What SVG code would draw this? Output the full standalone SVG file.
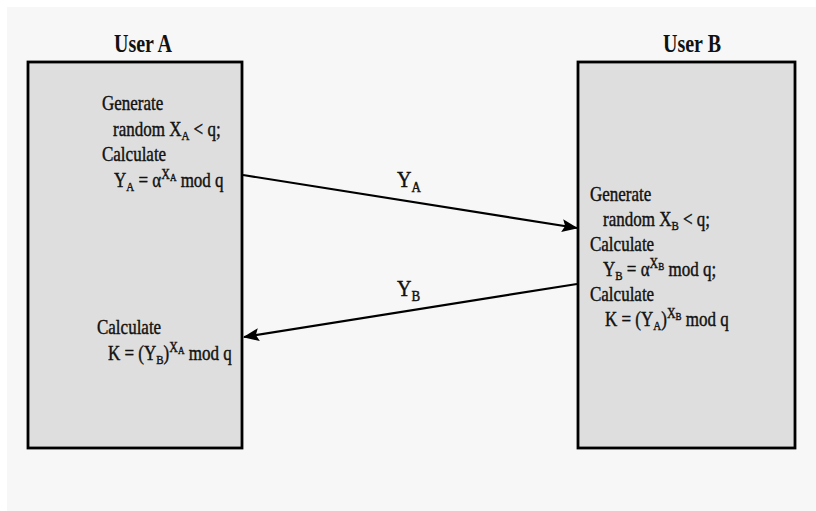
<svg xmlns="http://www.w3.org/2000/svg" width="816" height="511" viewBox="0 0 816 511">
<style>
.t{font-family:"Liberation Serif","Times New Roman",serif;font-size:17px;fill:#111;stroke:#111;stroke-width:0.35px;}
.h{font-family:"Liberation Serif","Times New Roman",serif;font-size:20px;font-weight:bold;fill:#111;}
.lbl{font-family:"Liberation Serif","Times New Roman",serif;font-size:20px;fill:#111;stroke:#111;stroke-width:0.4px;}
.box{fill:#dedede;stroke:#000;stroke-width:2.8;}
.con{stroke:#000;stroke-width:2.2;fill:none;}
</style>
<defs>
<marker id="ah" markerUnits="userSpaceOnUse" markerWidth="18" markerHeight="16" refX="15" refY="7" orient="auto">
<path d="M0,0.5 L16,7 L0,13.5 L3,7 z" fill="#000"/>
</marker>
</defs>
<rect x="0" y="0" width="816" height="511" fill="#fff"/>
<rect x="7" y="7" width="809" height="504" fill="#f7f7f7"/>
<g id="userA">
<rect class="box" x="28" y="62" width="214" height="386"/>
<text class="h" text-anchor="middle" transform="matrix(1 0 0 1.25 143 52)">User A</text>
<text class="t" transform="matrix(1 0 0 1.2 102 110)">Generate</text>
<text class="t" transform="matrix(1 0 0 1.2 113 136)">random X<tspan font-size="11" dy="3">A</tspan><tspan dy="-3"> &lt; q;</tspan></text>
<text class="t" transform="matrix(1 0 0 1.2 102 161)">Calculate</text>
<text class="t" transform="matrix(1 0 0 1.2 114 187)">Y<tspan font-size="11" dy="3">A</tspan><tspan dy="-3"> = α</tspan><tspan font-size="12" dy="-7">X</tspan><tspan font-size="9" dy="2">A</tspan><tspan dy="5"> mod q</tspan></text>
<text class="t" transform="matrix(1 0 0 1.2 97 334)">Calculate</text>
<text class="t" transform="matrix(1 0 0 1.2 108 360)">K = (Y<tspan font-size="11" dy="3">B</tspan><tspan dy="-3">)</tspan><tspan font-size="12" dy="-7">X</tspan><tspan font-size="9" dy="2">A</tspan><tspan dy="5"> mod q</tspan></text>
</g>
<g id="userB">
<rect class="box" x="578" y="62" width="217" height="386"/>
<text class="h" text-anchor="middle" transform="matrix(1 0 0 1.25 692 52)">User B</text>
<text class="t" transform="matrix(1 0 0 1.2 590 201)">Generate</text>
<text class="t" transform="matrix(1 0 0 1.2 603 226)">random X<tspan font-size="11" dy="3">B</tspan><tspan dy="-3"> &lt; q;</tspan></text>
<text class="t" transform="matrix(1 0 0 1.2 590 251)">Calculate</text>
<text class="t" transform="matrix(1 0 0 1.2 603 276)">Y<tspan font-size="11" dy="3">B</tspan><tspan dy="-3"> = α</tspan><tspan font-size="12" dy="-7">X</tspan><tspan font-size="9" dy="2">B</tspan><tspan dy="5"> mod q;</tspan></text>
<text class="t" transform="matrix(1 0 0 1.2 590 301)">Calculate</text>
<text class="t" transform="matrix(1 0 0 1.2 605 326)">K = (Y<tspan font-size="11" dy="3">A</tspan><tspan dy="-3">)</tspan><tspan font-size="12" dy="-7">X</tspan><tspan font-size="9" dy="2">B</tspan><tspan dy="5"> mod q</tspan></text>
</g>
<g id="connectors">
<line class="con" x1="243" y1="175" x2="577" y2="228" marker-end="url(#ah)"/>
<line class="con" x1="577" y1="284" x2="244" y2="337" marker-end="url(#ah)"/>
<text class="lbl" transform="matrix(1 0 0 1.2 397 187)">Y<tspan font-size="13" dy="4">A</tspan></text>
<text class="lbl" transform="matrix(1 0 0 1.2 397 296)">Y<tspan font-size="13" dy="4">B</tspan></text>
</g>
</svg>
